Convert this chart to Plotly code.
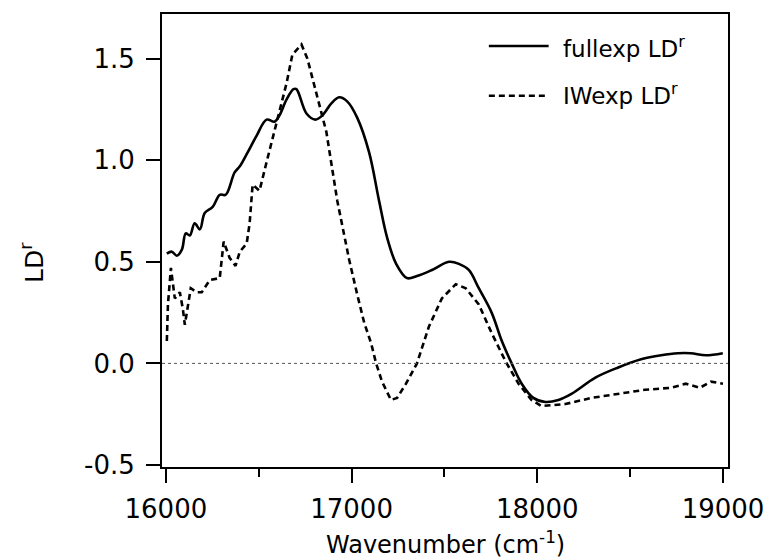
import plotly.graph_objects as go

# fullexp LD^r (solid)
full_x = [16005, 16032, 16059, 16086, 16107, 16129, 16155, 16183, 16209, 16252,
          16290, 16322, 16370, 16398, 16435, 16488, 16542, 16585, 16611, 16650,
          16687, 16703, 16757, 16805, 16842, 16891, 16933, 16976, 17030, 17094,
          17148, 17191, 17240, 17298, 17352, 17433, 17524, 17578, 17631, 17685,
          17754, 17809, 17862, 17916, 17979, 18044, 18114, 18184, 18313, 18436,
          18559, 18667, 18757, 18827, 18908, 18999]
full_y = [0.54, 0.55, 0.53, 0.56, 0.64, 0.63, 0.69, 0.66, 0.74, 0.77,
          0.83, 0.83, 0.94, 0.97, 1.03, 1.12, 1.20, 1.19, 1.22, 1.30,
          1.35, 1.35, 1.23, 1.20, 1.22, 1.28, 1.31, 1.29, 1.21, 1.04,
          0.80, 0.62, 0.49, 0.42, 0.43, 0.46, 0.50, 0.49, 0.46, 0.37,
          0.25, 0.11, 0.00, -0.10, -0.17, -0.19, -0.18, -0.15, -0.07, -0.02,
          0.02, 0.04, 0.05, 0.05, 0.04, 0.05]

# IWexp LD^r (dashed)
iw_x = [16005, 16011, 16027, 16037, 16048, 16075, 16091, 16102, 16118, 16134,
        16167, 16193, 16236, 16290, 16311, 16343, 16375, 16398, 16435, 16451,
        16467, 16504, 16542, 16595, 16650, 16681, 16730, 16762, 16808, 16864,
        16923, 16950, 16987, 17030, 17068, 17105, 17132, 17164, 17212, 17245,
        17293, 17352, 17416, 17486, 17561, 17615, 17685, 17754, 17829, 17899,
        17969, 18022, 18151, 18291, 18433, 18580, 18720, 18800, 18875, 18935, 19000]
iw_y = [0.11, 0.29, 0.47, 0.41, 0.32, 0.35, 0.27, 0.19, 0.29, 0.37,
        0.35, 0.35, 0.41, 0.42, 0.60, 0.52, 0.48, 0.55, 0.59, 0.69,
        0.88, 0.85, 0.99, 1.18, 1.38, 1.52, 1.57, 1.50, 1.34, 1.14,
        0.80, 0.67, 0.51, 0.34, 0.20, 0.10, 0.00, -0.09, -0.18, -0.17,
        -0.10, 0.00, 0.18, 0.32, 0.39, 0.37, 0.29, 0.15, 0.01, -0.10,
        -0.18, -0.21, -0.20, -0.17, -0.15, -0.13, -0.12, -0.10, -0.12, -0.09, -0.10]

x_tick_vals = [16000, 17000, 18000, 19000]
x_tick_text = ["16000", "17000", "18000", "19000"]
y_tick_vals = [-0.5, 0.0, 0.5, 1.0, 1.5]
y_tick_text = ["-0.5", "0.0", "0.5", "1.0", "1.5"]

FONT = "DejaVu Sans"

fig = go.Figure()
fig.add_trace(go.Scatter(x=full_x, y=full_y, mode="lines", name="fullexp LD<sup>r</sup>",
                         line=dict(color="black", width=2.6), line_shape="spline",
                         showlegend=False))
fig.add_trace(go.Scatter(x=iw_x, y=iw_y, mode="lines", name="IWexp LD<sup>r</sup>",
                         line=dict(color="black", width=2.6, dash="6px,4px"),
                         showlegend=False))

# zero reference line
fig.add_shape(type="line", xref="paper", yref="y", x0=0, x1=1, y0=0, y1=0,
              line=dict(color="#555555", width=1, dash="dot"))

# manual legend
fig.add_shape(type="line", xref="paper", yref="paper",
              x0=(490 - 162) / 568, x1=(550 - 162) / 568,
              y0=(467 - 45) / 454, y1=(467 - 45) / 454,
              line=dict(color="black", width=2.6))
fig.add_shape(type="line", xref="paper", yref="paper",
              x0=(490 - 162) / 568, x1=(548 - 162) / 568,
              y0=(467 - 95) / 454, y1=(467 - 95) / 454,
              line=dict(color="black", width=2.6, dash="6px,4px"))
fig.add_annotation(xref="paper", yref="paper", x=(562 - 162) / 568, y=(467 - 46) / 454,
                   text="fullexp LD<sup>r</sup>", showarrow=False, xanchor="left",
                   yanchor="middle", font=dict(family=FONT, size=23, color="black"))
fig.add_annotation(xref="paper", yref="paper", x=(562 - 162) / 568, y=(467 - 93) / 454,
                   text="IWexp LD<sup>r</sup>", showarrow=False, xanchor="left",
                   yanchor="middle", font=dict(family=FONT, size=23, color="black"))

# axis titles
fig.add_annotation(xref="paper", yref="paper", x=(446 - 162) / 568, y=(467 - 543) / 454,
                   text="Wavenumber (cm<sup>-1</sup>)", showarrow=False,
                   xanchor="center", yanchor="middle",
                   font=dict(family=FONT, size=24, color="black"))
fig.add_annotation(xref="paper", yref="paper", x=(32 - 162) / 568, y=(467 - 262) / 454,
                   text="LD<sup>r</sup>", showarrow=False, textangle=-90,
                   xanchor="center", yanchor="middle",
                   font=dict(family=FONT, size=25, color="black"))

fig.update_layout(
    width=776, height=560,
    margin=dict(l=162, r=46, t=13, b=93),
    paper_bgcolor="white", plot_bgcolor="white",
    font=dict(family=FONT, size=26, color="black"),
    showlegend=False,
)
fig.update_xaxes(range=[15979, 19027], showgrid=False, zeroline=False,
                 showline=True, linecolor="black", linewidth=2, mirror=True,
                 ticks="outside", ticklen=14, tickwidth=2, tickcolor="black",
                 tickvals=x_tick_vals, ticktext=x_tick_text,
                 ticklabelstandoff=4,
                 minor=dict(ticks="outside", ticklen=8, tickwidth=2, tickcolor="black",
                            dtick=500, tick0=16500, showgrid=False),
                 tickfont=dict(family=FONT, size=26))
fig.update_yaxes(range=[-0.51, 1.72], showgrid=False, zeroline=False,
                 showline=True, linecolor="black", linewidth=2, mirror=True,
                 ticks="outside", ticklen=14, tickwidth=2, tickcolor="black",
                 tickvals=y_tick_vals, ticktext=y_tick_text,
                 ticklabelstandoff=6,
                 tickfont=dict(family=FONT, size=26))

fig.write_html("out.html")
